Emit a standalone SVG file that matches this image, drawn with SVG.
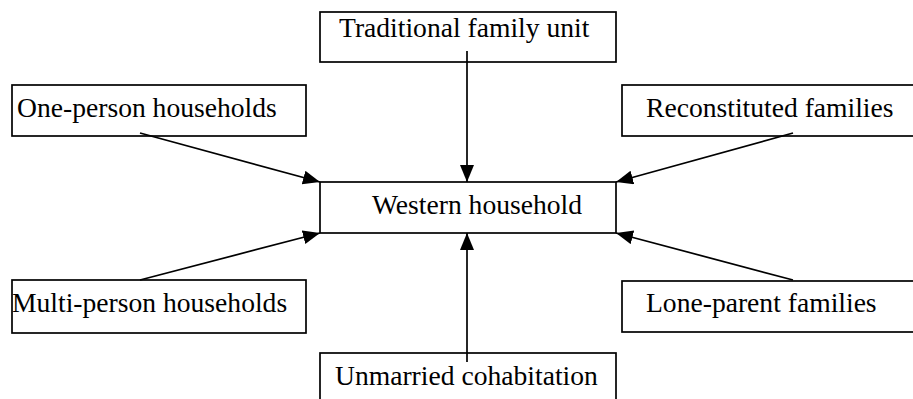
<svg xmlns="http://www.w3.org/2000/svg" width="913" height="399" viewBox="0 0 913 399">
<style>
.box{fill:#fff;stroke:#000;stroke-width:1.7}
.lbl{font-family:"Liberation Serif","Times New Roman",serif;font-size:27.6px;fill:#000}
.conn{stroke:#000;stroke-width:1.7;fill:none;marker-end:url(#ah)}
</style>
<defs>
<marker id="ah" markerUnits="userSpaceOnUse" markerWidth="18" markerHeight="16" refX="17" refY="7" orient="auto">
<path d="M0,0 L17,7 L0,14 Z" fill="#000"/>
</marker>
</defs>
<rect width="913" height="399" fill="#fff"/>
<g id="traditional"><rect class="box" x="320" y="12" width="296" height="50"/><text class="lbl" x="339" y="37">Traditional family unit</text></g>
<g id="one-person"><rect class="box" x="12" y="85" width="294" height="51"/><text class="lbl" x="17" y="117">One-person households</text></g>
<g id="reconstituted"><rect class="box" x="622" y="85" width="300" height="51"/><text class="lbl" x="646" y="117">Reconstituted families</text></g>
<g id="western"><rect class="box" x="320" y="182" width="296" height="51"/><text class="lbl" x="372" y="214">Western household</text></g>
<g id="multi-person"><rect class="box" x="12" y="280" width="294" height="53"/><text class="lbl" x="12" y="312">Multi-person households</text></g>
<g id="lone-parent"><rect class="box" x="622" y="281" width="300" height="51"/><text class="lbl" x="646" y="312">Lone-parent families</text></g>
<g id="unmarried"><rect class="box" x="320" y="353" width="296" height="60"/><text class="lbl" x="335" y="385">Unmarried cohabitation</text></g>
<g id="connectors">
<line class="conn" x1="467" y1="51" x2="467" y2="182"/>
<line class="conn" x1="140" y1="133" x2="320" y2="182"/>
<line class="conn" x1="793" y1="133" x2="616" y2="182"/>
<line class="conn" x1="140" y1="280" x2="320" y2="233"/>
<line class="conn" x1="793" y1="280" x2="616" y2="233"/>
<line class="conn" x1="467" y1="362" x2="467" y2="233"/>
</g>
</svg>
